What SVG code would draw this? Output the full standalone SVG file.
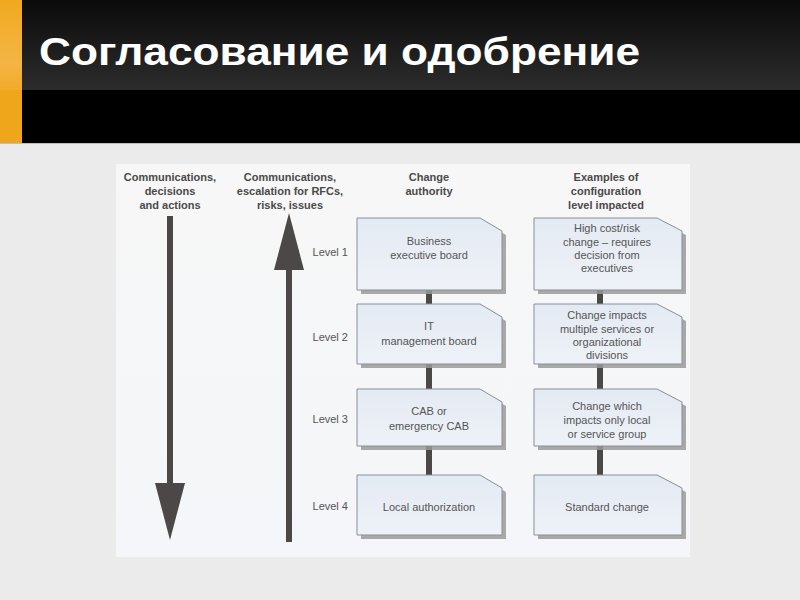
<svg xmlns="http://www.w3.org/2000/svg" width="800" height="600" viewBox="0 0 800 600">
<defs>
<linearGradient id="band" x1="0" y1="0" x2="0" y2="1">
<stop offset="0" stop-color="#0b0b0b"/>
<stop offset="1" stop-color="#2c2c2c"/>
</linearGradient>
<linearGradient id="orange" x1="0" y1="0" x2="0" y2="1">
<stop offset="0" stop-color="#f0a91e"/>
<stop offset="0.7" stop-color="#f4b545"/>
<stop offset="1" stop-color="#f2ab2a"/>
</linearGradient>
<linearGradient id="boxfill" x1="0" y1="0" x2="0" y2="1">
<stop offset="0" stop-color="#e4eaf3"/>
<stop offset="1" stop-color="#eef2f8"/>
</linearGradient>
<linearGradient id="panel" x1="0" y1="0" x2="0" y2="1">
<stop offset="0" stop-color="#f7f7f7"/>
<stop offset="1" stop-color="#f4f6f9"/>
</linearGradient>
<style>
.hdr{font-family:"Liberation Sans",Arial,sans-serif;font-size:11px;font-weight:bold;fill:#4a4a4a;text-anchor:middle}
.lvl{font-family:"Liberation Sans",Arial,sans-serif;font-size:11px;fill:#555;text-anchor:end}
.txt{font-family:"Liberation Sans",Arial,sans-serif;font-size:11px;fill:#555;text-anchor:middle}
.box{fill:url(#boxfill);stroke:#8a8f96;stroke-width:1}
.shadow{fill:#9a9a9a;opacity:0.85}
.conn{stroke:#4d4848;stroke-width:6}
.arrow{fill:#4d4848}
</style>
</defs>
<rect x="0" y="0" width="800" height="600" fill="#ebebeb"/>
<rect x="0" y="0" width="800" height="143" fill="#000"/>
<rect x="0" y="0" width="800" height="90" fill="url(#band)"/>
<rect x="0" y="143" width="800" height="1" fill="#bdbdbd"/>
<rect x="0" y="0" width="22" height="143" fill="#f0a61b"/>
<rect x="0" y="0" width="22" height="90" fill="url(#orange)"/>
<text x="39" y="65" font-family="Liberation Sans,Arial,sans-serif" font-size="38" font-weight="bold" fill="#fff" textLength="601" lengthAdjust="spacingAndGlyphs">Согласование и одобрение</text>

<rect x="116" y="164" width="574" height="393" fill="url(#panel)"/>

<g id="headers">
<text class="hdr" x="170" y="181">Communications,</text>
<text class="hdr" x="170" y="195">decisions</text>
<text class="hdr" x="170" y="209">and actions</text>
<text class="hdr" x="290" y="181">Communications,</text>
<text class="hdr" x="290" y="195">escalation for RFCs,</text>
<text class="hdr" x="290" y="209">risks, issues</text>
<text class="hdr" x="429" y="181">Change</text>
<text class="hdr" x="429" y="195">authority</text>
<text class="hdr" x="606" y="181">Examples of</text>
<text class="hdr" x="606" y="195">configuration</text>
<text class="hdr" x="606" y="209">level impacted</text>
</g>

<g id="arrows">
<rect class="arrow" x="167" y="216" width="6" height="270"/>
<polygon class="arrow" points="155,483 185,483 170,540"/>
<rect class="arrow" x="286" y="262" width="6" height="280"/>
<polygon class="arrow" points="274,270 304,270 289,213"/>
</g>

<g id="levels">
<text class="lvl" x="348" y="256">Level 1</text>
<text class="lvl" x="348" y="341">Level 2</text>
<text class="lvl" x="348" y="423">Level 3</text>
<text class="lvl" x="348" y="510">Level 4</text>
</g>

<g id="connectors">
<line class="conn" x1="429" y1="290" x2="429" y2="304"/>
<line class="conn" x1="429" y1="364" x2="429" y2="389"/>
<line class="conn" x1="429" y1="446" x2="429" y2="475"/>
<line class="conn" x1="600" y1="290" x2="600" y2="304"/>
<line class="conn" x1="600" y1="364" x2="600" y2="389"/>
<line class="conn" x1="600" y1="446" x2="600" y2="475"/>
</g>

<g id="auth1">
<path class="shadow" d="M361,222 H484 L506,235 V294 H361 Z"/>
<path class="box" d="M357,218 H480 L502,231 V290 H357 Z"/>
<text class="txt" x="429" y="245">Business</text>
<text class="txt" x="429" y="259">executive board</text>
</g>
<g id="auth2">
<path class="shadow" d="M361,308 H484 L506,321 V368 H361 Z"/>
<path class="box" d="M357,304 H480 L502,317 V364 H357 Z"/>
<text class="txt" x="429" y="330">IT</text>
<text class="txt" x="429" y="345">management board</text>
</g>
<g id="auth3">
<path class="shadow" d="M361,393 H484 L506,406 V450 H361 Z"/>
<path class="box" d="M357,389 H480 L502,402 V446 H357 Z"/>
<text class="txt" x="429" y="415">CAB or</text>
<text class="txt" x="429" y="430">emergency CAB</text>
</g>
<g id="auth4">
<path class="shadow" d="M361,479 H484 L506,492 V539 H361 Z"/>
<path class="box" d="M357,475 H480 L502,488 V535 H357 Z"/>
<text class="txt" x="429" y="511">Local authorization</text>
</g>

<g id="ex1">
<path class="shadow" d="M538,222 H661 L686,235 V294 H538 Z"/>
<path class="box" d="M534,218 H657 L682,231 V290 H534 Z"/>
<text class="txt" x="607" y="232">High cost/risk</text>
<text class="txt" x="607" y="246">change – requires</text>
<text class="txt" x="607" y="259">decision from</text>
<text class="txt" x="607" y="272">executives</text>
</g>
<g id="ex2">
<path class="shadow" d="M538,308 H661 L686,321 V368 H538 Z"/>
<path class="box" d="M534,304 H657 L682,317 V364 H534 Z"/>
<text class="txt" x="607" y="319">Change impacts</text>
<text class="txt" x="607" y="333">multiple services or</text>
<text class="txt" x="607" y="346">organizational</text>
<text class="txt" x="607" y="359">divisions</text>
</g>
<g id="ex3">
<path class="shadow" d="M538,393 H661 L686,406 V450 H538 Z"/>
<path class="box" d="M534,389 H657 L682,402 V446 H534 Z"/>
<text class="txt" x="607" y="410">Change which</text>
<text class="txt" x="607" y="424">impacts only local</text>
<text class="txt" x="607" y="438">or service group</text>
</g>
<g id="ex4">
<path class="shadow" d="M538,479 H661 L686,492 V539 H538 Z"/>
<path class="box" d="M534,475 H657 L682,488 V535 H534 Z"/>
<text class="txt" x="607" y="511">Standard change</text>
</g>
</svg>
